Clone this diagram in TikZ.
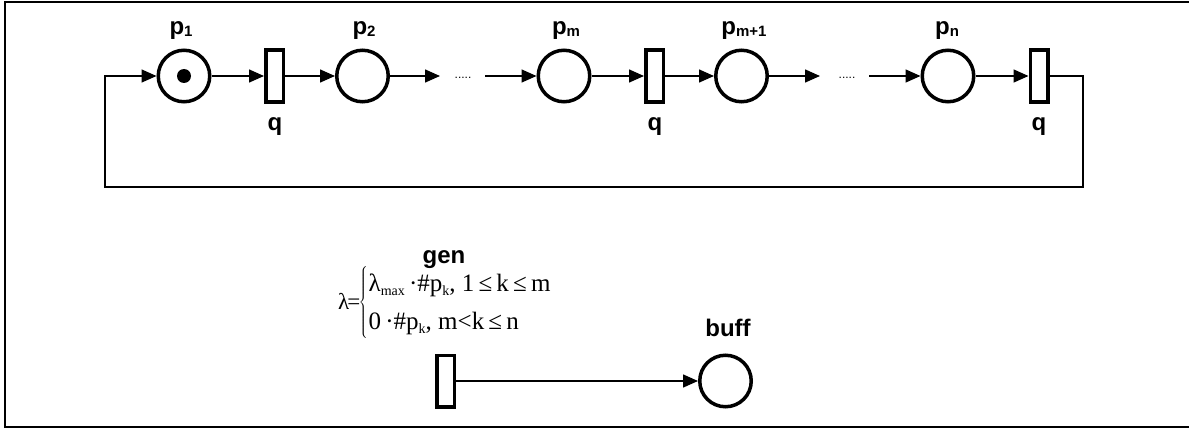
\documentclass[tikz,border=0pt]{standalone}
\usepackage{fontspec}
\setmainfont{Liberation Sans}
\newfontfamily\tms{Liberation Serif}
\usetikzlibrary{arrows.meta}
\newcommand\sbx[1]{\raisebox{-1.5pt}{\fontsize{15}{15}\selectfont #1}}
\newcommand\tsb[1]{\raisebox{-4.5pt}{\fontsize{14}{14}\selectfont #1}}
\begin{document}
\begin{tikzpicture}[x=1pt,y=-1pt,
  place/.style={circle,draw,line width=3.5pt,minimum size=51.5pt,inner sep=0pt},
  trans/.style={rectangle,draw,line width=3.5pt,minimum width=17.5pt,minimum height=51.5pt,inner sep=0pt},
  conn/.style={line width=1.5pt},
  arr/.style={conn,-{Triangle[length=15pt,width=13pt]}},
  lab/.style={font=\fontsize{24}{24}\selectfont\bfseries,inner sep=0pt,anchor=base},
  dotsl/.style={font=\fontsize{12}{12}\selectfont,inner sep=0pt,anchor=base},
  token/.style={circle,fill,minimum size=14pt,inner sep=0pt},
  frame/.style={line width=2pt}]
\useasboundingbox (0,0) rectangle (1189,428);
% frame
\coordinate (f1) at (1189,2);
\coordinate (f2) at (5,2);
\coordinate (f3) at (5,426.5);
\coordinate (f4) at (1189,426.5);
\draw[frame] (f1) -- (f2) -- (f3) -- (f4);
% top net
\node[place] (p1) at (184,76) {};
\node[token] (tk) at (p1) {};
\node[trans] (q1) at (274.5,76) {};
\node[place] (p2) at (362.5,76) {};
\coordinate (e1) at (440,76);
\node[dotsl] (d1) at (463,78) {.....};
\coordinate (s1) at (485,76);
\node[place] (pm) at (564,76) {};
\node[trans] (qm) at (654.5,76) {};
\node[place] (pm1) at (741.5,76) {};
\coordinate (e2) at (820,76);
\node[dotsl] (d2) at (847,78) {.....};
\coordinate (s2) at (869,76);
\node[place] (pn) at (948,76) {};
\node[trans] (qn) at (1039,76) {};
\coordinate (rc) at (1083,76);
\coordinate (lc) at (105,187);
% labels
\node[lab] (lp1) at (181,35) {p\sbx{1}};
\node[lab] (lp2) at (364,35) {p\sbx{2}};
\node[lab] (lpm) at (566,35) {p\sbx{m}};
\node[lab] (lpm1) at (744,35) {p\sbx{m+1}};
\node[lab] (lpn) at (947,35) {p\sbx{n}};
\node[lab] (lq1) at (275,130) {q};
\node[lab] (lqm) at (655,130) {q};
\node[lab] (lqn) at (1039,130) {q};
% arcs
\draw[arr] (p1) -- (q1);
\draw[arr] (q1) -- (p2);
\draw[arr] (p2) -- (e1);
\draw[arr] (s1) -- (pm);
\draw[arr] (pm) -- (qm);
\draw[arr] (qm) -- (pm1);
\draw[arr] (pm1) -- (e2);
\draw[arr] (s2) -- (pn);
\draw[arr] (pn) -- (qn);
\draw[arr] (qn.east) -- (rc) |- (lc) |- (p1.west);
% bottom
\node[trans] (gen) at (445.5,381) {};
\node[place] (buff) at (725.5,381) {};
\node[lab] (lgen) at (444,263) {gen};
\node[lab] (lbuff) at (728,336) {buff};
\draw[arr] (gen) -- (buff);
\node[inner sep=0pt,anchor=base west,font=\tms\fontsize{25}{38}\selectfont] (formula) at (338,309)
  {{\fontsize{23}{23}\selectfont λ\kern-2pt=}\kern-1.5pt$\left\{\begin{tabular}{@{\kern1pt}l@{}}λ\tsb{max}\,·\#p\tsb{k}, 1\,≤\,k\,≤\,m\\
   0\,·\#p\tsb{k}, m<k\,≤\,n\end{tabular}\right.$};
\end{tikzpicture}
\end{document}
